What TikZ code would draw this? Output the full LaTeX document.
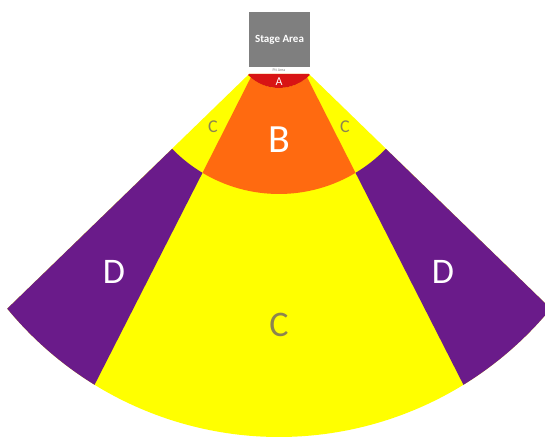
\documentclass[tikz,border=0pt]{standalone}
\usepackage{fontspec}
\setmainfont{Carlito}
\usetikzlibrary{calc}
\definecolor{seatyellow}{HTML}{FFFF00}
\definecolor{seatorange}{HTML}{FF6A10}
\definecolor{seatpurple}{HTML}{6A1B8A}
\definecolor{seatred}{HTML}{D81414}
\definecolor{stagegray}{HTML}{7F7F7F}
\definecolor{olivetext}{HTML}{8C8450}
\tikzset{
	zone/.style={draw=none},
	zonelabel/.style={inner sep=0pt, anchor=center},
	biglabel/.style={zonelabel, font=\fontsize{36}{36}\selectfont},
	smalllabel/.style={zonelabel, font=\fontsize{18}{18}\selectfont}
}

\begin{document}
\begin{tikzpicture}[x=1pt, y=1pt,
			stagebox/.style={fill=stagegray, draw=none, minimum width=61pt,
				minimum height=55pt, inner sep=0pt, text=white,
				font=\fontsize{11}{11}\selectfont\bfseries},
			]
			\useasboundingbox (0,0) rectangle (545,437);
			
			%% -- Centres of the arcs and the corners of the fan
			\coordinate (apex) at (279,392);
			\coordinate (rim) at (279,352);
			\coordinate (tl) at (249.1,363);
			\coordinate (tr) at (308.9,363);
			\coordinate (ol) at ($(rim)+(219.45:352pt)$);
			\coordinate (or) at ($(rim)+(320.55:352pt)$);
			\coordinate (bl) at ($(rim)+(238.4:352pt)$);
			\coordinate (br) at ($(rim)+(301.6:352pt)$);
			\coordinate (ml) at ($(apex)+(224.16:149pt)$);
			\coordinate (mr) at ($(apex)+(315.84:149pt)$);
			\coordinate (il) at ($(apex)+(239.1:149pt)$);
			\coordinate (ir) at ($(apex)+(300.9:149pt)$);
			\coordinate (al) at ($(apex)+(229:43pt)$);
			\coordinate (ar) at ($(apex)+(311:43pt)$);
			\coordinate (er) at ($(apex)+(315.84:43pt)$);
			
			%% -- Whole fan first (section C)
			\fill[zone, seatyellow] (tl) -- (ol)
			arc[start angle=219.45, end angle=320.55, radius=352pt]
			-- (tr) -- cycle;
			
			%% -- Side wings (section D)
			\fill[zone, seatpurple] (ml) -- (ol)
			arc[start angle=219.45, end angle=238.4, radius=352pt]
			-- (il) arc[start angle=239.1, end angle=224.16, radius=149pt] -- cycle;
			\fill[zone, seatpurple] (mr) -- (or)
			arc[start angle=320.55, end angle=301.6, radius=352pt]
			-- (ir) arc[start angle=300.9, end angle=315.84, radius=149pt] -- cycle;
			
			%% -- Centre block (section B)
			\fill[zone, seatorange] (al) -- (il)
			arc[start angle=239.1, end angle=300.9, radius=149pt]
			-- (ar) arc[start angle=311, end angle=229, radius=43pt] -- cycle;
			
			%% -- Front row (section A)
			\fill[zone, seatred] (tl) -- (tr) -- (er)
			arc[start angle=315.84, end angle=224.16, radius=43pt] -- cycle;
			
			%% -- Stage and pit
			\node[stagebox] (stage) at (279.5,397.5) {Stage Area};
			\node[zonelabel, text=stagegray, font=\fontsize{4}{4}\selectfont]
			(pit) at (279,367) {Pit Area};
			
			%% -- Section letters
			\node[zonelabel, text=white, font=\fontsize{12}{12}\selectfont]
			(labA) at (279,355) {A};
			\node[zonelabel, text=white, font=\fontsize{40}{40}\selectfont]
			(labB) at (279,297) {B};
			\node[smalllabel, text=olivetext] (labCl) at (213,310) {C};
			\node[smalllabel, text=olivetext] (labCr) at (345,310) {C};
			\node[biglabel, text=olivetext] (labC) at (279,112) {C};
			\node[biglabel, text=white] (labDl) at (114,165) {D};
			\node[biglabel, text=white] (labDr) at (443,165) {D};
			
		\end{tikzpicture}
\end{document}
